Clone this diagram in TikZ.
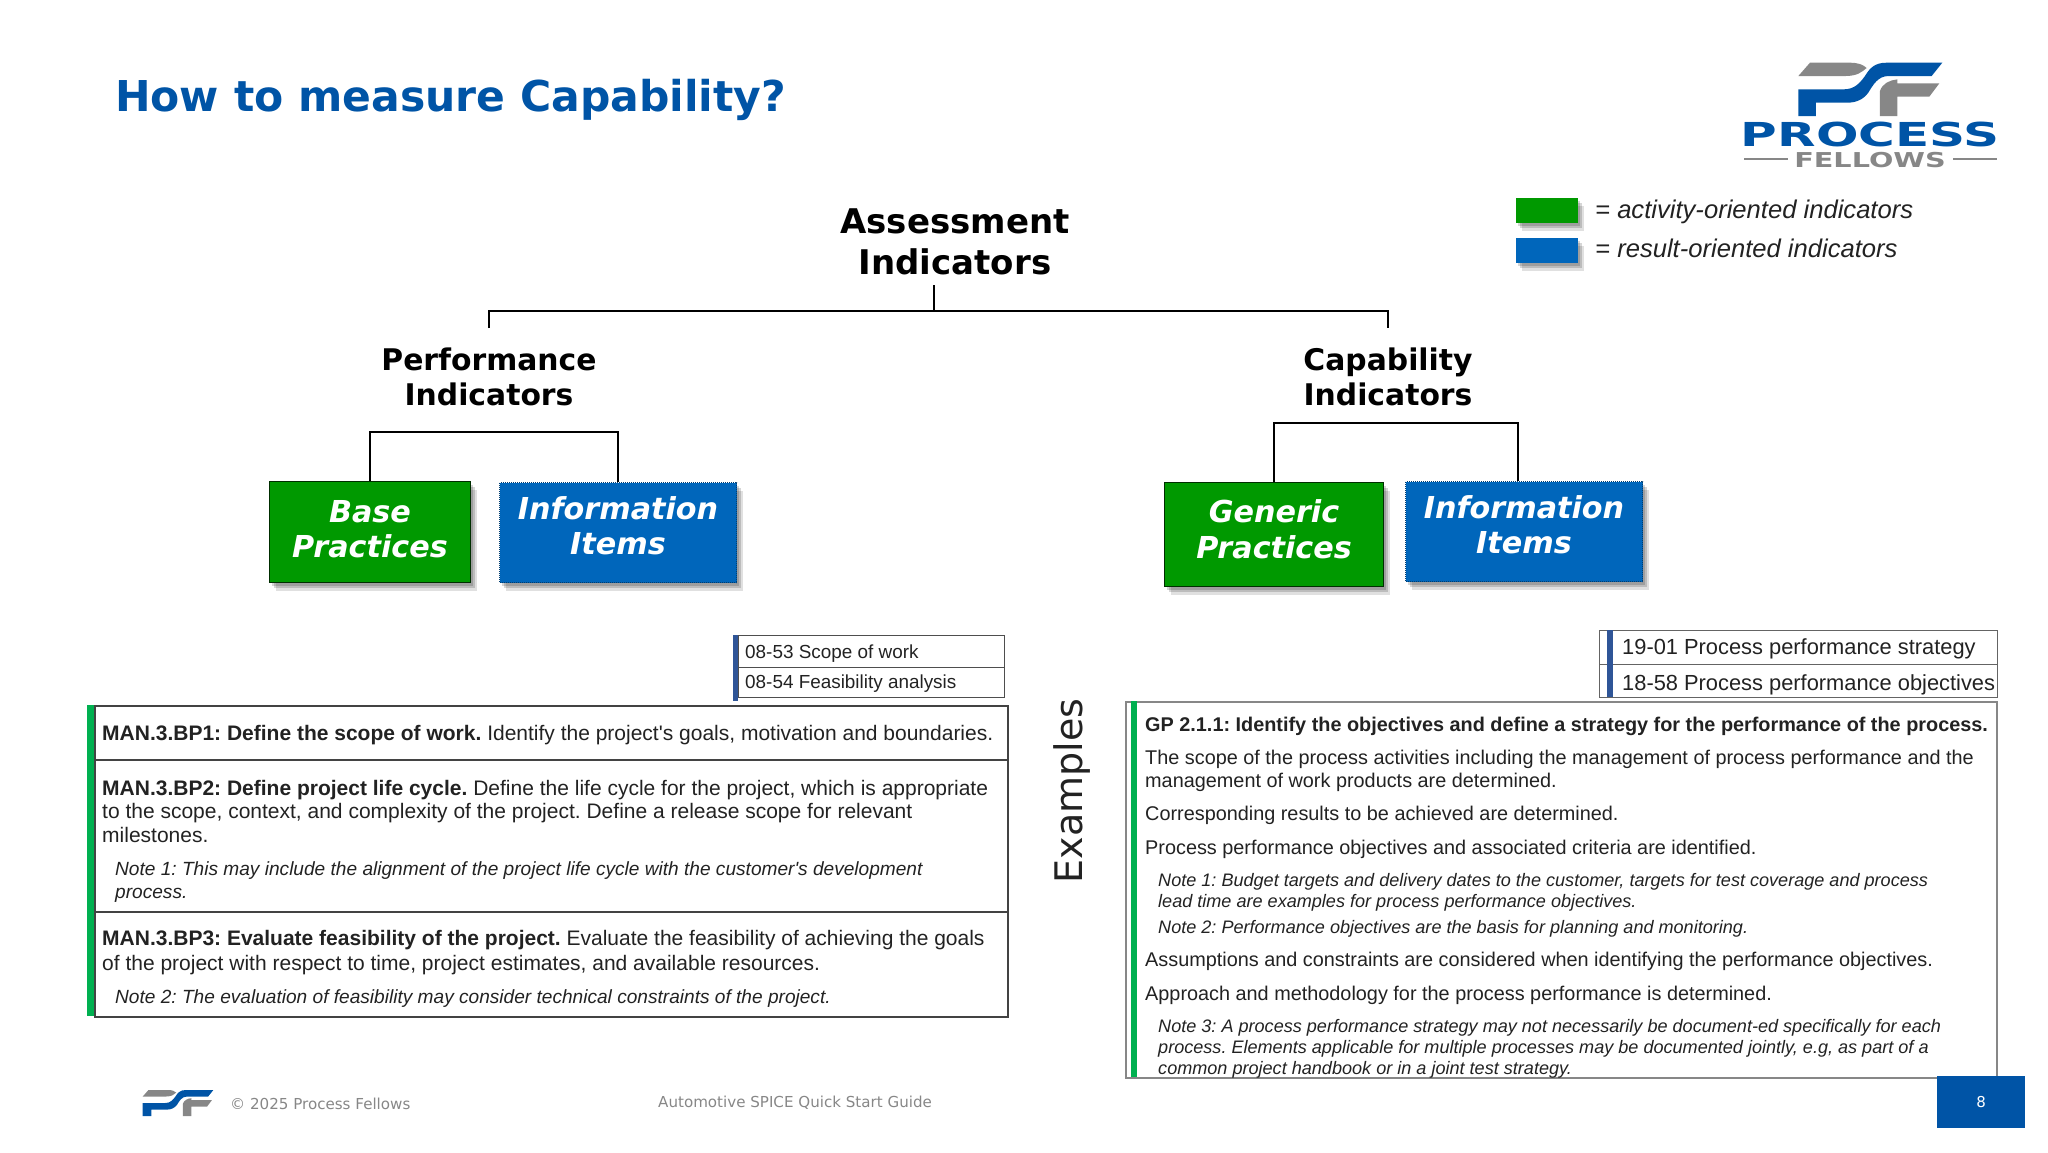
\documentclass[tikz,border=0pt]{standalone}
\usepackage{fontspec}
\setmainfont{Liberation Sans}
\newfontfamily\headfont{DejaVu Sans}
\usetikzlibrary{shadows}
\frenchspacing
\definecolor{pfblue}{HTML}{0054A6}
\definecolor{pfgray}{HTML}{878787}
\definecolor{boxgreen}{HTML}{009900}
\definecolor{boxblue}{HTML}{0066BB}
\definecolor{barblue}{HTML}{2F5597}
\definecolor{bargreen}{HTML}{00B050}
\definecolor{ink}{HTML}{222222}
\tikzset{
  treeline/.style={line width=2pt,black},
  headtext/.style={align=center,inner sep=0pt,font=\headfont\bfseries\fontsize{29.8}{35.5}\selectfont},
  boxtext/.style={align=center,text=white,font=\headfont\bfseries\itshape\fontsize{30.2}{35.5}\selectfont},
  softshadow/.style={
    drop shadow={shadow xshift=2pt,shadow yshift=-3pt,opacity=.16,fill=black},
    drop shadow={shadow xshift=4pt,shadow yshift=-5pt,opacity=.16,fill=black},
    drop shadow={shadow xshift=6pt,shadow yshift=-8pt,opacity=.12,fill=black}},
  greenbox/.style={boxtext,fill=boxgreen,draw=black!70!boxgreen,line width=1pt,softshadow,anchor=north west},
  bluebox/.style={boxtext,fill=boxblue,draw=boxblue!60!black,densely dotted,line width=1pt,softshadow,anchor=north west},
  bodyline/.style={anchor=base west,inner sep=0pt,text=ink,font=\fontsize{21}{24}\selectfont},
  noteline/.style={bodyline,font=\itshape\fontsize{19.1}{22}\selectfont},
  gpline/.style={bodyline,font=\fontsize{19.85}{24}\selectfont},
  gpnote/.style={bodyline,font=\itshape\fontsize{18.08}{22}\selectfont},
  wpline/.style={bodyline,font=\fontsize{18.9}{24}\selectfont},
  rowbox/.style={draw=#1,inner sep=0pt,anchor=north west},
  bar/.style={fill=#1,inner sep=0pt,anchor=north west},
  foottext/.style={inner sep=0pt,anchor=west,text=pfgray,font=\headfont\fontsize{15.1}{18}\selectfont},
  pfmark/.pic={
    \fill[pfgray] (0,40) -- (35,0) -- (155,0) .. controls (180,0) and (195,6) .. (205,16)
      .. controls (190,28) and (178,40) .. (140,40) -- cycle;
    \fill[pfblue] (0,80) -- (135,80) .. controls (170,80) and (185,60) .. (200,40)
      .. controls (215,15) and (230,0) .. (265,0) -- (432,0) -- (400,40) -- (270,40)
      .. controls (240,40) and (225,65) .. (210,90) .. controls (195,110) and (175,120) .. (145,120)
      -- (53,120) -- (53,160) -- (0,160) -- cycle;
    \fill[pfgray] (245,160) -- (245,85) .. controls (252,62) and (275,52) .. (297,50)
      -- (297,62) -- (423,62) -- (393,102) -- (297,102) -- (297,160) -- cycle;
  }
}
\begin{document}
\begin{tikzpicture}[x=1pt,y=-1pt]
  \useasboundingbox (0,0) rectangle (2048,1152);
  % title
  \node[anchor=west,inner sep=0pt,text=pfblue,font=\headfont\bfseries\fontsize{42.5}{50}\selectfont] (title) at (115,100) {How to measure Capability?};
  % logo
  \pic[scale=0.3333] (bigmark) at (1798.3,62.7) {pfmark};
  \node[inner sep=0pt,text=pfblue,xscale=1.516,font=\headfont\bfseries\fontsize{33}{36}\selectfont] (logoprocess) at (1870,134.5) {PROCESS};
  \node[inner sep=0pt,text=pfgray,xscale=1.4,font=\headfont\bfseries\fontsize{20.5}{24}\selectfont] (logofellows) at (1870,160) {FELLOWS};
  \node[bar=pfgray,minimum width=44pt,minimum height=2pt] (logorulea) at (1744,158) {};
  \node[bar=pfgray,minimum width=44pt,minimum height=2pt] (logoruleb) at (1953,158) {};
  % legend
  \node[bar=boxgreen,softshadow,minimum width=62pt,minimum height=25pt] (keygreen) at (1516,198) {};
  \node[bar=boxblue,softshadow,minimum width=62pt,minimum height=25pt] (keyblue) at (1516,238) {};
  \node[anchor=west,inner sep=0pt,text=ink,font=\itshape\fontsize{25.6}{30}\selectfont] (keygreentext) at (1595,212) {= activity-oriented indicators};
  \node[anchor=west,inner sep=0pt,text=ink,font=\itshape\fontsize{25.6}{30}\selectfont] (keybluetext) at (1595,248) {= result-oriented indicators};
  % tree heads
  \node[headtext,font=\headfont\bfseries\fontsize{34}{40.5}\selectfont] (assess) at (955,242) {Assessment\\Indicators};
  \node[headtext] (perf) at (489,377) {Performance\\Indicators};
  \node[headtext] (capa) at (1388,377) {Capability\\Indicators};
  % coloured boxes
  \node[greenbox,minimum width=201pt,minimum height=101pt] (base) at (269,481) {Base\\Practices\\[-29pt]};
  \node[bluebox,minimum width=237pt,minimum height=100pt] (infoa) at (499,482) {Information\\Items\\[-22pt]};
  \node[greenbox,minimum width=219pt,minimum height=104pt] (generic) at (1164,482) {Generic\\Practices\\[-25pt]};
  \node[bluebox,minimum width=237pt,minimum height=100pt] (infob) at (1405,481) {Information\\Items\\[-22pt]};
  % tree lines
  \coordinate (assessfoot) at (934,285);
  \coordinate (mainfork) at (934,311);
  \coordinate (perftop) at (489,328);
  \coordinate (capatop) at (1388,328);
  \coordinate (perffork) at (494,432);
  \coordinate (capafork) at (1395,423);
  \coordinate (infobtop) at (1518,481);
  \draw[treeline] (assessfoot) -- (mainfork);
  \draw[treeline] (perftop) |- (mainfork) -| (capatop);
  \draw[treeline] (base.north) |- (perffork) -| (infoa.north);
  \draw[treeline] (generic.north) |- (capafork) -| (infobtop);
  % left work products
  \node[rowbox=ink!80,minimum width=266pt,minimum height=32pt] (wpa) at (738,635) {};
  \node[rowbox=ink!80,minimum width=266pt,minimum height=30pt] (wpb) at (738,667) {};
  \node[bar=barblue,minimum width=5pt,minimum height=66pt] (wpbar) at (733,635) {};
  \node[wpline] (wpatext) at (745,658.5) {08-53 Scope of work};
  \node[wpline] (wpbtext) at (745,688.5) {08-54 Feasibility analysis};
  % left base practices
  \node[rowbox=ink!85,line width=1.5pt,minimum width=913pt,minimum height=54pt] (rowa) at (94,705) {};
  \node[rowbox=ink!85,line width=1.5pt,minimum width=913pt,minimum height=152pt] (rowb) at (94,759) {};
  \node[rowbox=ink!85,line width=1.5pt,minimum width=913pt,minimum height=105pt] (rowc) at (94,911) {};
  \node[bar=bargreen,minimum width=7pt,minimum height=311pt] (rowbar) at (87,705) {};
  \node[bodyline] (bpa) at (102,740) {\textbf{MAN.3.BP1: Define the scope of work.} Identify the project\textquotesingle s goals, motivation and boundaries.};
  \node[bodyline] (bpb) at (102,795) {\textbf{MAN.3.BP2: Define project life cycle.} Define the life cycle for the project, which is appropriate};
  \node[bodyline] (bpc) at (102,818) {to the scope, context, and complexity of the project. Define a release scope for relevant};
  \node[bodyline] (bpd) at (102,842) {milestones.};
  \node[noteline] (bpe) at (115,875) {Note 1: This may include the alignment of the project life cycle with the customer\textquotesingle s development};
  \node[noteline] (bpf) at (115,898) {process.};
  \node[bodyline] (bpg) at (102,945) {\textbf{MAN.3.BP3: Evaluate feasibility of the project.} Evaluate the feasibility of achieving the goals};
  \node[bodyline] (bph) at (102,970) {of the project with respect to time, project estimates, and available resources.};
  \node[noteline] (bpi) at (115,1003) {Note 2: The evaluation of feasibility may consider technical constraints of the project.};
  % examples
  \node[inner sep=0pt,rotate=90,text=ink,font=\headfont\fontsize{38}{44}\selectfont] (examples) at (1072,791) {Examples};
  % right work products
  \node[rowbox=ink!70,minimum width=398pt,minimum height=34pt] (wpc) at (1599,630) {};
  \node[rowbox=ink!70,minimum width=398pt,minimum height=33pt] (wpd) at (1599,664) {};
  \node[bar=barblue,minimum width=6pt,minimum height=67pt] (wpdbar) at (1607,630) {};
  \node[wpline,font=\fontsize{21.85}{26}\selectfont] (wpctext) at (1622,654) {19-01 Process performance strategy};
  \node[wpline,font=\fontsize{21.85}{26}\selectfont] (wpdtext) at (1622,690) {18-58 Process performance objectives};
  % right generic practice
  \node[rowbox=pfgray,line width=1.5pt,minimum width=871pt,minimum height=376pt] (gprow) at (1125,701) {};
  \node[bar=bargreen,minimum width=6pt,minimum height=376pt] (gpbar) at (1131,701) {};
  \node[gpline] (gpa) at (1145,731) {\textbf{GP 2.1.1: Identify the objectives and define a strategy for the performance of the process.}};
  \node[gpline] (gpb) at (1145,764) {The scope of the process activities including the management of process performance and the};
  \node[gpline] (gpc) at (1145,787) {management of work products are determined.};
  \node[gpline] (gpd) at (1145,820) {Corresponding results to be achieved are determined.};
  \node[gpline] (gpe) at (1145,854) {Process performance objectives and associated criteria are identified.};
  \node[gpnote] (gpf) at (1158,886) {Note 1: Budget targets and delivery dates to the customer, targets for test coverage and process};
  \node[gpnote] (gpg) at (1158,907) {lead time are examples for process performance objectives.};
  \node[gpnote] (gph) at (1158,933) {Note 2: Performance objectives are the basis for planning and monitoring.};
  \node[gpline] (gpi) at (1145,966) {Assumptions and constraints are considered when identifying the performance objectives.};
  \node[gpline] (gpj) at (1145,1000) {Approach and methodology for the process performance is determined.};
  \node[gpnote] (gpk) at (1158,1032) {Note 3: A process performance strategy may not necessarily be document-ed specifically for each};
  \node[gpnote] (gpl) at (1158,1053) {process. Elements applicable for multiple processes may be documented jointly, e.g, as part of a};
  \node[gpnote] (gpm) at (1158,1074) {common project handbook or in a joint test strategy.};
  % footer
  \pic[scale=0.1636] (smallmark) at (142.7,1090) {pfmark};
  \node[foottext] (copyright) at (230,1104) {© 2025 Process Fellows};
  \node[foottext] (guide) at (658,1103) {Automotive SPICE Quick Start Guide};
  \node[bar=pfblue,minimum width=88pt,minimum height=52pt] (pagebox) at (1937,1076) {};
  \node[inner sep=0pt,text=white,font=\headfont\fontsize{15}{18}\selectfont] (pagenum) at (pagebox.center) {8};
\end{tikzpicture}
\end{document}
